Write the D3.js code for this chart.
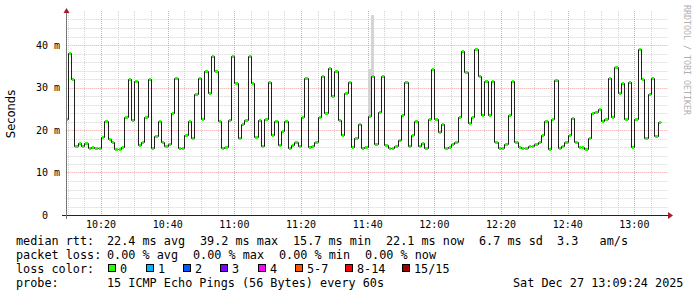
<!DOCTYPE html>
<html>
<head>
<meta charset="utf-8">
<script src="https://cdn.jsdelivr.net/npm/d3@7"></script>
<style>
body { margin: 0; background: #fff; }
svg { display: block; }
text { font-family: "DejaVu Sans Mono", monospace; fill: #000; white-space: pre; }
</style>
</head>
<body>
<svg id="chart" width="697" height="297"></svg>
<script>
// graph window and first rrd step
var startTime = new Date(2025, 11, 27, 10, 9, 24);
var endTime = new Date(2025, 11, 27, 13, 9, 24);
var firstMinute = new Date(2025, 11, 27, 10, 9, 0);

// median rtt per minute, ms
var medians = [
    22.7, 38.2, 32.0, 16.2, 17.0, 16.2, 17.0, 15.8, 16.0, 15.8, 15.8, 18.4, 22.2, 17.8, 17.1, 15.6,
    15.6, 15.9, 23.1, 32.1, 22.4, 31.6, 16.4, 17.2, 23.1, 32.1, 15.8, 18.5, 22.2, 17.2, 16.2, 16.6,
    24.1, 32.2, 15.8, 15.8, 18.9, 22.2, 18.2, 28.5, 32.2, 22.7, 33.9, 28.8,
    37.5, 33.9, 22.2, 15.7, 15.9, 22.4, 37.5, 31.1, 18.2, 21.4, 22.4, 37.5, 31.1, 18.4, 22.3, 16.2,
    22.6, 31.2, 18.9, 22.2, 16.4, 19.8, 22.2, 15.7, 16.5, 17.1, 16.2, 23.1, 32.2, 16.0, 16.2, 17.2,
    23.1, 32.7, 24.1, 34.6, 28.1, 33.9, 22.4, 18.9, 28.8, 31.2, 16.0,
    18.1, 21.4, 15.7, 15.9, 23.3, 32.8, 16.6, 24.3, 32.8, 16.4, 15.8, 15.8, 16.2, 17.6, 23.5, 31.3,
    16.3, 18.9, 22.2, 16.3, 17.0, 15.8, 22.7, 34.3, 22.7, 19.5, 21.4, 15.8, 16.1, 16.7, 17.2, 23.1,
    38.7, 33.7, 21.6, 23.1, 39.1, 32.8, 23.6, 31.6, 23.6, 31.6, 17.1, 15.8, 15.8, 16.6, 23.6,
    31.6, 17.2, 16.1, 15.8, 15.8, 16.2, 16.2, 16.6, 17.2, 18.9, 22.2, 15.6, 22.5, 31.8, 15.8, 16.2,
    17.2, 18.9, 22.8, 17.2, 16.1, 16.1, 15.6, 18.1, 23.9, 24.3, 25.0, 22.2, 22.7, 32.2, 23.1, 34.9,
    28.8, 31.1, 22.7, 31.2, 16.1, 22.7, 39.1, 32.1, 18.1, 28.5, 32.2, 18.5, 22.0
];

// visible smoke (ping spread), ms
var smokeTimes = ['11:40', '11:41'];
var smokeLow = [23.3, 32.8];
var smokeHigh = [34.3, 47.1];

var yTicks = [0, 10, 20, 30, 40];
var yMax = 48;

var lossLabels = ['0', '1', '2', '3', '4', '5-7', '8-14', '15/15'];
var lossColors = ['#26ff00', '#00b8ff', '#0059ff', '#7e00ff', '#ff00ff', '#ff5500', '#ff0000', '#a10000'];

var rttLegend = ['22.4 ms avg', '39.2 ms max', '15.7 ms min', '22.1 ms now', '6.7 ms sd', '3.3   am/s'];
var lossLegend = ['0.00 % avg', '0.00 % max', '0.00 % min', '0.00 % now'];
var probeText = '15 ICMP Echo Pings (56 Bytes) every 60s';
var stampText = 'Sat Dec 27 13:09:24 2025';

var svg = d3.select('#chart');
var plotL = 65.7, plotR = 665.7, plotT = 11, plotB = 215;

var x = d3.scaleTime().domain([startTime, endTime]).range([plotL, plotR]);
var y = d3.scaleLinear().domain([0, yMax]).range([plotB, plotT]);

svg.append('clipPath').attr('id', 'plot')
    .append('rect').attr('x', 66).attr('y', 0).attr('width', plotR - 66).attr('height', plotB);

var px = function (v) { return Math.round(v) + 0.5; };

// grid
var grid = svg.append('g');
var minorY = d3.range(2, yMax, 2).filter(function (v) { return v % 10; });
grid.selectAll('.hmin').data(minorY).enter().append('line')
    .attr('x1', plotL).attr('x2', 668)
    .attr('y1', function (d) { return px(y(d)); })
    .attr('y2', function (d) { return px(y(d)); })
    .attr('stroke', '#d2d2d2').attr('stroke-dasharray', '1,1');
var minorX = d3.timeMinute.every(5).range(startTime, endTime).filter(function (d) { return d.getMinutes() % 20; });
grid.selectAll('.vmin').data(minorX).enter().append('line')
    .attr('y1', plotT).attr('y2', plotB)
    .attr('x1', function (d) { return px(x(d)); })
    .attr('x2', function (d) { return px(x(d)); })
    .attr('stroke', '#d2d2d2').attr('stroke-dasharray', '1,1');
grid.selectAll('.hmaj').data(yTicks.slice(1)).enter().append('line')
    .attr('x1', plotL).attr('x2', 668)
    .attr('y1', function (d) { return px(y(d)); })
    .attr('y2', function (d) { return px(y(d)); })
    .attr('stroke', '#eba5a5').attr('stroke-dasharray', '1,1');
var majorX = d3.timeMinute.every(20).range(startTime, endTime);
grid.selectAll('.vmaj').data(majorX).enter().append('line')
    .attr('y1', plotT).attr('y2', plotB)
    .attr('x1', function (d) { return px(x(d)); })
    .attr('x2', function (d) { return px(x(d)); })
    .attr('stroke', '#eba5a5').attr('stroke-dasharray', '1,1');

// data
var pts = medians.map(function (v, i) {
    return { t: d3.timeMinute.offset(firstMinute, i), v: v };
});
var parseHM = function (s) {
    var p = s.split(':');
    return new Date(2025, 11, 27, +p[0], +p[1], 0);
};

var plot = svg.append('g').attr('clip-path', 'url(#plot)');

plot.selectAll('.smoke').data(smokeTimes).enter().append('rect')
    .attr('x', function (d) { return Math.round(x(parseHM(d))); })
    .attr('width', function (d) { return Math.round(x(d3.timeMinute.offset(parseHM(d), 1))) - Math.round(x(parseHM(d))); })
    .attr('y', function (d, i) { return Math.round(y(smokeHigh[i])); })
    .attr('height', function (d, i) { return Math.round(y(smokeLow[i])) - Math.round(y(smokeHigh[i])); })
    .attr('fill', '#d4d4d4');

var stepPts = pts.concat([{ t: d3.timeMinute.offset(firstMinute, pts.length), v: medians[medians.length - 1] }]);
var line = d3.line()
    .x(function (d) { return px(x(d.t)); })
    .y(function (d) { return px(y(d.v)); })
    .curve(d3.curveStepAfter);
plot.append('path').attr('d', line(stepPts))
    .attr('fill', 'none').attr('stroke', '#202020').attr('stroke-width', 1);

plot.selectAll('.loss').data(pts).enter().append('rect')
    .attr('x', function (d) { return Math.round(x(d.t)) + 1; })
    .attr('width', function (d) { return Math.round(x(d3.timeMinute.offset(d.t, 1))) - Math.round(x(d.t)) - 1; })
    .attr('y', function (d) { return Math.round(y(d.v)) - 1; })
    .attr('height', 3)
    .attr('fill', lossColors[0]);

// axes
svg.append('line').attr('x1', 62).attr('x2', 670).attr('y1', plotB + 0.5).attr('y2', plotB + 0.5)
    .attr('stroke', '#222');
svg.append('line').attr('x1', 66.5).attr('x2', 66.5).attr('y1', 219).attr('y2', 11)
    .attr('stroke', '#777');
svg.append('path').attr('d', 'M668,212L673,215.5L668,219Z').attr('fill', '#a0202a');
svg.append('path').attr('d', 'M63.5,13L66.5,8L69.5,13Z').attr('fill', '#a0202a');

var timeFmt = d3.timeFormat('%H:%M');
svg.selectAll('.xl').data(majorX).enter().append('text')
    .attr('x', function (d) { return x(d); }).attr('y', 228)
    .attr('text-anchor', 'middle').style('font-size', '10px')
    .text(timeFmt);

svg.selectAll('.yl').data(yTicks).enter().append('text')
    .attr('x', function (d) { return d ? 60 : 48; })
    .attr('y', function (d) { return y(d) + 3.5; })
    .attr('text-anchor', 'end').style('font-size', '10px')
    .text(function (d) { return d ? d + ' m' : '0'; });

svg.append('text').attr('transform', 'translate(15,114) rotate(-90)')
    .attr('text-anchor', 'middle')
    .style('font-family', '"DejaVu Sans", sans-serif').style('font-size', '11.5px')
    .text('Seconds');

svg.append('text').attr('transform', 'translate(684,5) rotate(90)')
    .style('font-size', '8.3px').style('fill', '#b0b0b0')
    .text('RRDTOOL / TOBI OETIKER');

// legend
var lg = svg.append('g').style('font-size', '11.8px');
var rttX = [107, 200, 293, 386, 479, 557];
var lossX = [107, 193, 279, 365];
lg.append('text').attr('x', 16).attr('y', 245).text('median rtt:');
rttLegend.forEach(function (s, i) {
    lg.append('text').attr('x', rttX[i]).attr('y', 245).text(s);
});
lg.append('text').attr('x', 16).attr('y', 259).text('packet loss:');
lossLegend.forEach(function (s, i) {
    lg.append('text').attr('x', lossX[i]).attr('y', 259).text(s);
});
lg.append('text').attr('x', 16).attr('y', 273).text('loss color:');
var swX = [108, 146, 183, 220, 258, 295, 345, 402];
lossLabels.forEach(function (s, i) {
    lg.append('rect').attr('x', swX[i] + 0.5).attr('y', 264.5).attr('width', 7).attr('height', 7)
        .attr('fill', lossColors[i]).attr('stroke', '#000');
    lg.append('text').attr('x', swX[i] + 12).attr('y', 273).text(s);
});
lg.append('text').attr('x', 16).attr('y', 287).text('probe:');
lg.append('text').attr('x', 107).attr('y', 287).text(probeText);
lg.append('text').attr('x', 513).attr('y', 287).text(stampText);
</script>
</body>
</html>
